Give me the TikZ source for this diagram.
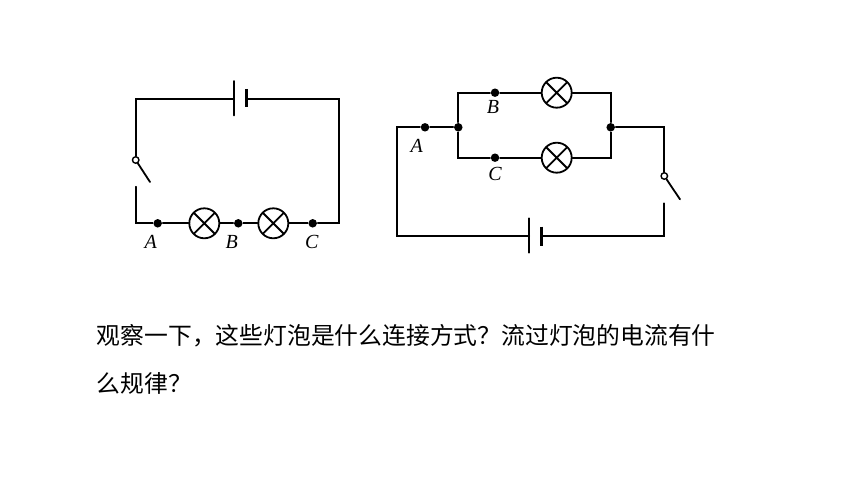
\documentclass[tikz,border=0pt]{standalone}
\usepackage{fontspec}
\setmainfont{Liberation Serif}
\newfontfamily\cjk{Noto Sans CJK SC}
\usepackage{tikz}

\begin{document}
\begin{tikzpicture}[x=1pt,y=-1pt,line width=1.8pt,line cap=round,
	lamp/.style={draw,circle,minimum size=30pt,inner sep=0pt,line width=1.8pt,
		path picture={\draw[line width=1.8pt] (path picture bounding box.north west) -- (path picture bounding box.south east)
			(path picture bounding box.north east) -- (path picture bounding box.south west);}},
	dot/.style={fill,circle,minimum size=8.5pt,inner sep=0pt},
	pivot/.style={draw,circle,fill=white,minimum size=6.5pt,inner sep=0pt,line width=1.4pt},
	lbl/.style={font=\itshape\fontsize{20}{20}\selectfont,inner sep=0pt},
	txt/.style={font=\cjk\fontsize{23.8}{23.8}\selectfont,anchor=west,inner sep=0pt}]
	\useasboundingbox (0,0) rectangle (860,484);
	%% Series circuit
	\coordinate (tl) at (135.7,99);
	\coordinate (tr) at (339.3,99);
	\coordinate (bl) at (135.7,223.3);
	\coordinate (br) at (339.3,223.3);
	\coordinate (swb) at (135.7,186.7);
	\coordinate (lev1) at (150,182);
	\draw (234,81) -- (234,115.5);
	\draw[line width=3pt,line cap=butt] (246,89) -- (246,107.5);
	\node[dot] (A1) at (157.7,223.3) {};
	\node[lamp] (L1) at (204.3,223.3) {};
	\node[dot] (B1) at (238.3,223.3) {};
	\node[lamp] (L2) at (273.3,223.3) {};
	\node[dot] (C1) at (312.7,223.3) {};
	\node[pivot] (sw1) at (135.7,160) {};
	\draw (234,99) -- (tl) -- (sw1);
	\draw (sw1) -- (lev1);
	\draw (swb) -- (bl) -- (A1) -- (L1) -- (B1) -- (L2) -- (C1) -- (br) -- (tr) -- (246,99);
	\node[lbl] (lA1) at (150.7,241.7) {A};
	\node[lbl] (lB1) at (231.7,241.7) {B};
	\node[lbl] (lC1) at (311.7,241.7) {C};
	%% Parallel circuit
	\coordinate (otl) at (396.7,127.3);
	\coordinate (obl) at (396.7,235.7);
	\coordinate (otr) at (664.3,127.3);
	\coordinate (obr) at (664.3,235.7);
	\coordinate (swb2) at (664.3,203.3);
	\coordinate (lev2) at (680,199.3);
	\coordinate (ttl) at (458.3,92.7);
	\coordinate (ttr) at (610.7,92.7);
	\coordinate (bbl) at (458.3,157.7);
	\coordinate (bbr) at (610.7,157.7);
	\draw (529.3,218.3) -- (529.3,252.7);
	\draw[line width=3pt,line cap=butt] (541.7,226.7) -- (541.7,245.7);
	\node[dot] (A2) at (425,127.3) {};
	\node[dot] (J1) at (458.3,127.3) {};
	\node[dot] (J2) at (610.7,127.3) {};
	\node[dot] (B2) at (495,92.7) {};
	\node[dot] (C2) at (495,157.7) {};
	\node[lamp] (L3) at (556.7,92.7) {};
	\node[lamp] (L4) at (556.7,157.7) {};
	\node[pivot] (sw2) at (664.3,176) {};
	\draw (529.3,235.7) -- (obl) -- (otl) -- (A2) -- (J1);
	\draw (J1) -- (ttl) -- (B2) -- (L3) -- (ttr) -- (J2);
	\draw (J1) -- (bbl) -- (C2) -- (L4) -- (bbr) -- (J2);
	\draw (J2) -- (otr) -- (sw2);
	\draw (sw2) -- (lev2);
	\draw (swb2) -- (obr) -- (541.7,235.7);
	\node[lbl] (lA2) at (416.7,146) {A};
	\node[lbl] (lB2) at (493,107.3) {B};
	\node[lbl] (lC2) at (495,174) {C};
	%% Question
	\node[txt] (q1) at (96,336) {观察一下，这些灯泡是什么连接方式？流过灯泡的电流有什};
	\node[txt] (q2) at (96,383) {么规律？};
\end{tikzpicture}
\end{document}
